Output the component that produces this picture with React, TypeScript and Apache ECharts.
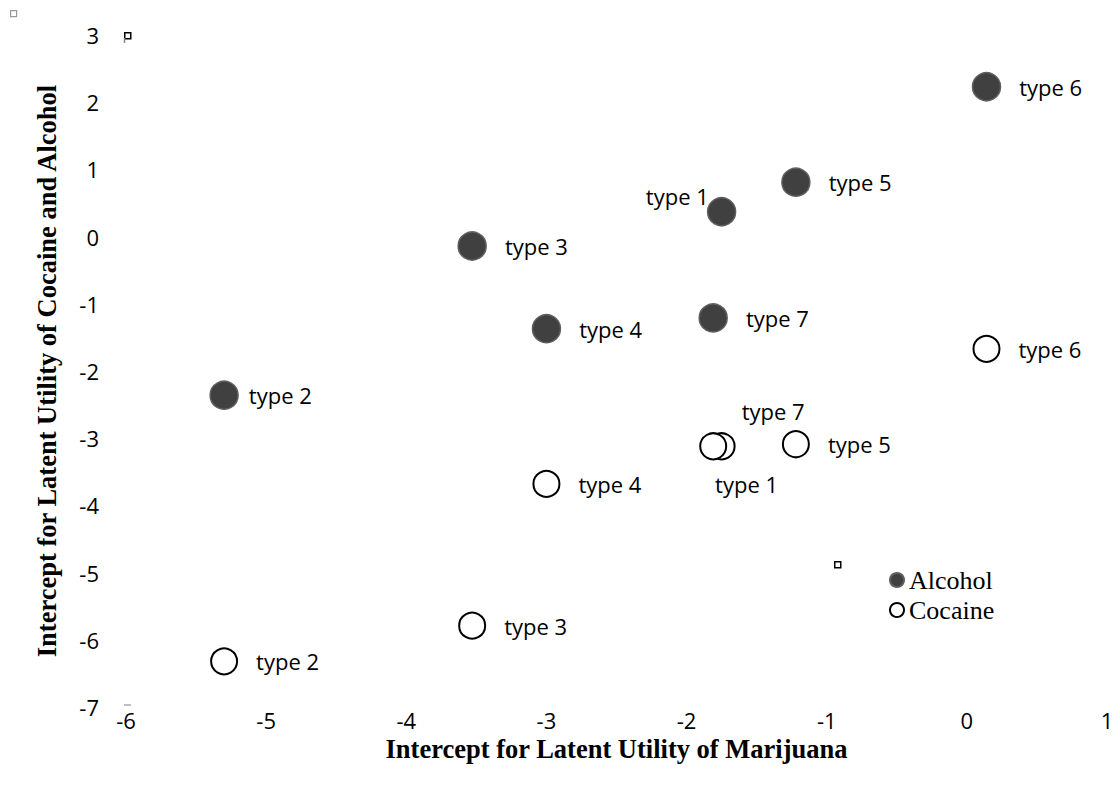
import React, { useEffect, useRef } from "react";
import * as echarts from "echarts";

const typeNames = ["type 1", "type 2", "type 3", "type 4", "type 5", "type 6", "type 7"];
const alcoholX = [-1.75, -5.3, -3.53, -3.0, -1.22, 0.14, -1.81];
const alcoholY = [0.37, -2.36, -0.14, -1.37, 0.81, 2.23, -1.21];
const cocaineX = [-1.75, -5.3, -3.53, -3.0, -1.22, 0.14, -1.81];
const cocaineY = [-3.12, -6.32, -5.79, -3.68, -3.09, -1.67, -3.12];
const xTicks = [-6, -5, -4, -3, -2, -1, 0, 1];
const yTicks = [3, 2, 1, 0, -1, -2, -3, -4, -5, -6, -7];

const labelFont = "'Open Sans', Carlito, Lato, sans-serif";
const serif = "'Liberation Serif', 'Times New Roman', serif";

const baseLabel = {
  show: true,
  position: "right",
  distance: 18,
  fontSize: 22,
  color: "#000",
  fontFamily: labelFont,
  formatter: (p: any) => p.data.name,
};

const alcoholLabelOverrides: Record<number, any> = {
  0: { position: "left", distance: -2, offset: [0, -16] },
  1: { distance: 10 },
};
const cocaineLabelOverrides: Record<number, any> = {
  0: { position: "inside", offset: [25, 38] },
  6: { position: "inside", offset: [60, -35] },
};

export default function App() {
  const ref = useRef<HTMLDivElement>(null);
  useEffect(() => {
    if (!ref.current) return;
    const chart = echarts.init(ref.current, null, { renderer: "svg" });
    const alcoholData = typeNames.map((n, i) => ({
      name: n,
      value: [alcoholX[i], alcoholY[i]],
      label: { ...baseLabel, ...(alcoholLabelOverrides[i] || {}) },
    }));
    const cocaineData = typeNames.map((n, i) => ({
      name: n,
      value: [cocaineX[i], cocaineY[i]],
      label: { ...baseLabel, ...(cocaineLabelOverrides[i] || {}) },
    }));
    chart.setOption({
      animation: false,
      backgroundColor: "#fff",
      grid: { left: 126, right: 13, top: 35, bottom: 82 },
      legend: {
        left: 889,
        top: 567,
        padding: 0,
        orient: "vertical",
        itemWidth: 14,
        itemHeight: 14,
        itemGap: 4,
        icon: "circle",
        textStyle: { fontFamily: serif, fontSize: 26, color: "#000" },
        data: ["Alcohol", "Cocaine"],
      },
      xAxis: {
        type: "value",
        min: xTicks[0],
        max: xTicks[xTicks.length - 1],
        interval: 1,
        name: "Intercept for Latent Utility of Marijuana",
        nameLocation: "middle",
        nameGap: 27,
        nameTextStyle: { fontFamily: serif, fontWeight: "bold", fontSize: 26.5, color: "#000" },
        axisLine: { show: false },
        axisTick: { show: false },
        splitLine: { show: false },
        axisLabel: { fontSize: 22, color: "#000", fontFamily: labelFont, margin: 2, formatter: (v: number) => String(v) },
      },
      yAxis: {
        type: "value",
        min: yTicks[yTicks.length - 1],
        max: yTicks[0],
        interval: 1,
        name: "Intercept for Latent Utility of Cocaine and Alcohol",
        nameLocation: "middle",
        nameGap: 66,
        nameTextStyle: { fontFamily: serif, fontWeight: "bold", fontSize: 26.5, color: "#000" },
        axisLine: { show: false },
        axisTick: { show: false },
        splitLine: { show: false },
        axisLabel: { fontSize: 22, color: "#000", fontFamily: labelFont, margin: 27, formatter: (v: number) => String(v) },
      },
      series: [
        {
          name: "Alcohol",
          type: "scatter",
          symbol: "circle",
          symbolSize: 28,
          itemStyle: { color: "#404040", borderColor: "#5f5f5f", borderWidth: 1.5, opacity: 1 },
          data: alcoholData,
        },
        {
          name: "Cocaine",
          type: "scatter",
          symbol: "circle",
          symbolSize: 26,
          itemStyle: { color: "#fff", borderColor: "#000", borderWidth: 2, opacity: 1 },
          data: cocaineData,
        },
      ],
      graphic: [
        { type: "rect", left: 10, top: 10, shape: { width: 6, height: 6 }, style: { fill: "#fff", stroke: "#999", lineWidth: 1.2 } },
        { type: "rect", left: 124, top: 32, shape: { width: 6, height: 6 }, style: { fill: "#fff", stroke: "#000", lineWidth: 1.5 } },
        { type: "line", shape: { x1: 124.5, y1: 38, x2: 124.5, y2: 43 }, style: { stroke: "#888", lineWidth: 1.5 } },
        { type: "line", shape: { x1: 124, y1: 705, x2: 131, y2: 705 }, style: { stroke: "#aaa", lineWidth: 1.5 } },
        { type: "rect", left: 834, top: 561, shape: { width: 6, height: 6 }, style: { fill: "#fff", stroke: "#000", lineWidth: 1.5 } },
      ],
    });
    return () => chart.dispose();
  }, []);
  return <div ref={ref} style={{ position: "fixed", left: 0, top: 0, width: 1120, height: 789 }} />;
}
